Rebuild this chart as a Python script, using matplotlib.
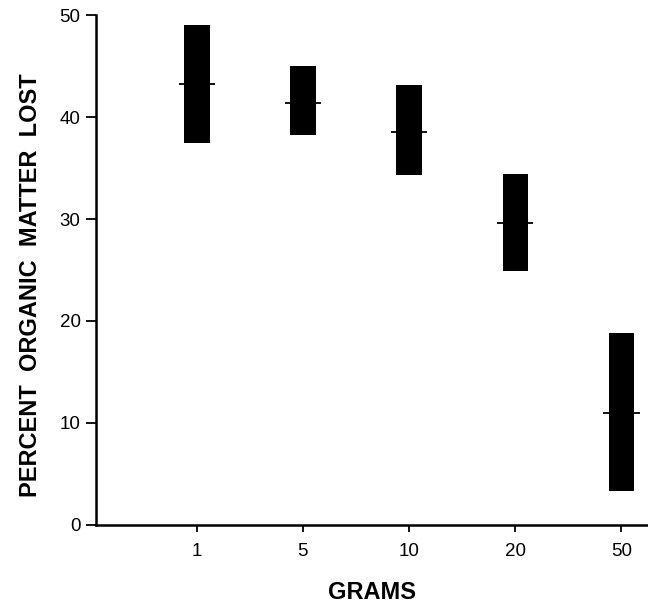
"""
Percent organic matter lost vs. sample size (range bars with mean marks)
"""

import matplotlib

matplotlib.use("Agg")
import matplotlib.pyplot as plt

# data
grams = ["1", "5", "10", "20", "50"]
low = [37.5, 38.2, 34.3, 24.9, 3.3]
high = [49.0, 45.0, 43.1, 34.4, 18.8]
mean = [43.2, 41.4, 38.5, 29.6, 11.0]
y_ticks = [0, 10, 20, 30, 40, 50]

plt.rcParams["font.family"] = ["Liberation Sans", "DejaVu Sans"]

fig = plt.figure(figsize=(6.48, 6.04), dpi=100)
ax = fig.add_axes([0.148, 0.131, 0.852, 0.844])

pos = list(range(1, len(grams) + 1))
heights = [h - l for h, l in zip(high, low)]

ax.bar(pos, heights, bottom=low, width=0.24, color="black", zorder=2)
ax.hlines(mean, [p - 0.17 for p in pos], [p + 0.17 for p in pos],
          color="black", linewidth=1.3, zorder=3)

ax.set_xlim(0.05, 5.25)
ax.set_ylim(0, 50)
ax.set_xticks(pos)
ax.set_xticklabels(grams)
ax.set_yticks(y_ticks)

for side in ["top", "right"]:
    ax.spines[side].set_visible(False)
for side in ["left", "bottom"]:
    ax.spines[side].set_linewidth(1.8)

ax.tick_params(axis="y", direction="out", length=7, width=1.3,
               labelsize=13.5, pad=4)
ax.tick_params(axis="x", direction="out", length=5, width=1.3,
               labelsize=13.5, pad=8)

ax.set_xlabel("GRAMS", fontsize=17, fontweight="bold", labelpad=15)
ax.set_ylabel("PERCENT  ORGANIC  MATTER  LOST", fontsize=17,
              fontweight="bold", labelpad=16)
ax.yaxis.set_label_coords(-0.097, 0.47)

plt.savefig("out.png", dpi=100)
plt.close()
